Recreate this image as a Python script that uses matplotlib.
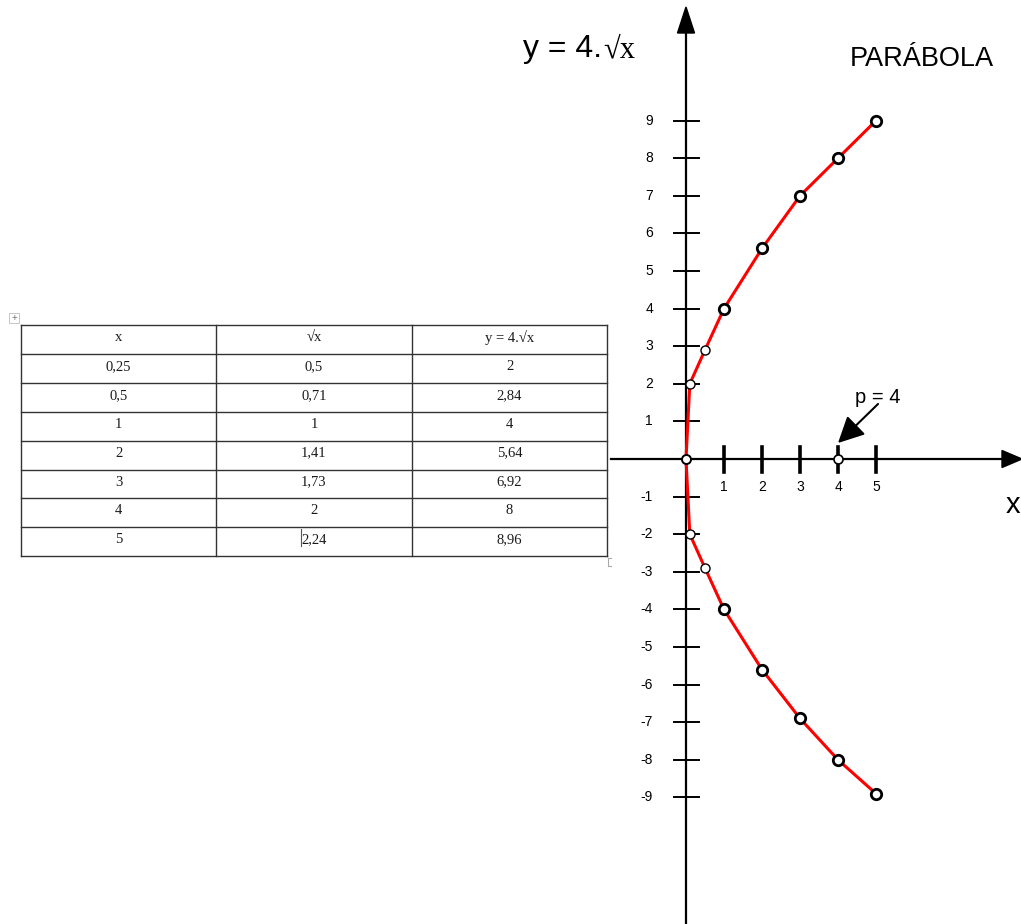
import matplotlib.pyplot as plt
from matplotlib.patches import Polygon

W, H = 1021, 924

# table contents
col_labels = ["x", "√x", "y = 4.√x"]
x_vals = ["0,25", "0,5", "1", "2", "3", "4", "5"]
sqrt_vals = ["0,5", "0,71", "1", "1,41", "1,73", "2", "2,24"]
y_vals = ["2", "2,84", "4", "5,64", "6,92", "8", "8,96"]

# points of the parabola as drawn
pt_x = [0.1, 0.5, 1, 2, 3, 4, 5]
upper = [2, 2.9, 4, 5.6, 7, 8, 9]
lower = [-2, -2.9, -4, -5.6, -6.9, -8, -8.9]
y_ticks = [-9, -8, -7, -6, -5, -4, -3, -2, -1, 1, 2, 3, 4, 5, 6, 7, 8, 9]
x_ticks = [1, 2, 3, 4, 5]
p = 4

# pixel scale of the coordinate system
ox, oy = 686, 459
sx, sy = 38.0, 37.6

SANS = ["Liberation Sans", "DejaVu Sans"]
SERIF = ["Liberation Serif", "DejaVu Serif"]

fig = plt.figure(figsize=(W / 100, H / 100), dpi=100)

# layout layer in pixels (table, titles, arrow heads)
pax = fig.add_axes([0, 0, 1, 1])
pax.set_xlim(0, W)
pax.set_ylim(H, 0)
pax.axis("off")

# data layer
ax = fig.add_axes([0, 0, 1, 1])
ax.set_xlim(-ox / sx, (W - ox) / sx)
ax.set_ylim(-(H - oy) / sy, oy / sy)
ax.axis("off")

# --- table ---
cols = [21, 216, 412, 607]
row_top, row_h = 325, 28.9
nrows = len(x_vals) + 1
line_c = "#333333"
for i in range(nrows + 1):
    yy = row_top + i * row_h
    pax.plot([cols[0], cols[-1]], [yy, yy], color=line_c, lw=1.0)
for c in cols:
    pax.plot([c, c], [row_top, row_top + nrows * row_h], color=line_c, lw=1.0)

rows = [col_labels] + [list(r) for r in zip(x_vals, sqrt_vals, y_vals)]
for i, row in enumerate(rows):
    for j, txt in enumerate(row):
        cx = (cols[j] + cols[j + 1]) / 2
        pax.text(cx, row_top + i * row_h + 12.5, txt, ha="center", va="center",
                 fontsize=10.5, family=SERIF, color="#1a1a1a")
# text cursor in the last row
pax.plot([301, 301], [529, 546], color="#555555", lw=0.8)
# small table handles
pax.add_patch(plt.Rectangle((9, 313), 10, 10, fill=False, ec="#bbbbbb", lw=0.6))
pax.text(14, 318, "+", ha="center", va="center", fontsize=7, color="#777777", family=SANS)
pax.plot([611, 608, 608, 611], [558, 558, 566, 566], color="#aaaaaa", lw=0.8)

# --- axes of the diagram ---
ax.plot([0, 0], [-(H - oy) / sy, (oy - 33) / sy], color="black", lw=1.6)
ax.plot([(611 - ox) / sx, (1003 - ox) / sx], [0, 0], color="black", lw=1.6)
pax.add_patch(Polygon([(686, 7), (677.5, 33), (694.5, 33)], closed=True, color="black"))
pax.add_patch(Polygon([(1022, 459), (1002, 450.5), (1002, 467.5)], closed=True, color="black"))

for t in y_ticks:
    ax.plot([-12 / sx, 13 / sx], [t, t], color="black", lw=1.4)
    ax.text(-33 / sx, t, str(t), ha="right", va="center", fontsize=10, family=SANS)
for t in x_ticks:
    ax.plot([t, t], [12.5 / sy, -12.5 / sy], color="black", lw=2.6)
    ax.text(t, -28 / sy, str(t), ha="center", va="center", fontsize=10, family=SANS)

# --- parabola ---
curve_x = pt_x[::-1] + [0] + pt_x
curve_y = lower[::-1] + [0] + upper
ax.plot(curve_x, curve_y, color="#ff0000", lw=2.2, zorder=3)

big = [i for i, v in enumerate(pt_x) if v >= 1]
small = [i for i, v in enumerate(pt_x) if v < 1]
for ys in (upper, lower):
    ax.plot([pt_x[i] for i in big], [ys[i] for i in big], "o", ms=7.5,
            mfc="white", mec="black", mew=2.0, zorder=4)
    ax.plot([pt_x[i] for i in small], [ys[i] for i in small], "o", ms=6.5,
            mfc="white", mec="black", mew=1.0, zorder=4)
ax.plot([0], [0], "o", ms=6.5, mfc="white", mec="black", mew=1.4, zorder=4)
ax.plot([p], [0], "o", ms=6.5, mfc="white", mec="black", mew=1.2, zorder=4)

ax.annotate("", xy=(p, 16 / sy), xytext=((878 - ox) / sx, (oy - 404) / sy),
            arrowprops=dict(arrowstyle="-|>", lw=1.5, color="black",
                            mutation_scale=40, shrinkA=0, shrinkB=0))

# --- labels ---
pax.text(855, 403, "p = 4", ha="left", va="baseline", fontsize=14.5, family=SANS)
pax.text(1013, 505, "x", ha="center", va="center", fontsize=21, family=SANS)
pax.text(523, 57, "y = 4.", ha="left", va="baseline", fontsize=23, family=SANS)
pax.text(603, 57, "√x", ha="left", va="baseline", fontsize=22, family=SERIF)
pax.text(850, 66, "PARÁBOLA", ha="left", va="baseline", fontsize=19.5, family=SANS)

fig.savefig("out.png", dpi=100)
